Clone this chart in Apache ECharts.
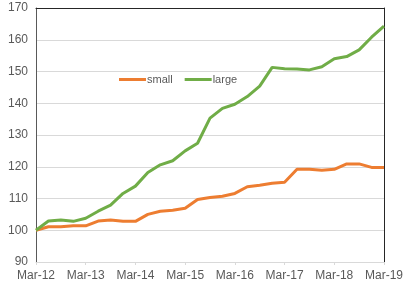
<!DOCTYPE html>
<html><head><meta charset="utf-8">
<script src="https://cdn.jsdelivr.net/npm/echarts@6/dist/echarts.min.js"></script>
<style>html,body{margin:0;padding:0;background:#fff}#c{width:406px;height:287px}</style>
</head><body><div id="c"></div>
<script>
const categories = ["Mar-12","Jun-12","Sep-12","Dec-12","Mar-13","Jun-13","Sep-13","Dec-13","Mar-14","Jun-14","Sep-14","Dec-14","Mar-15","Jun-15","Sep-15","Dec-15","Mar-16","Jun-16","Sep-16","Dec-16","Mar-17","Jun-17","Sep-17","Dec-17","Mar-18","Jun-18","Sep-18","Dec-18","Mar-19"];
const small = [100,101.1,101.1,101.4,101.4,102.9,103.2,102.8,102.8,105.0,106.0,106.3,106.9,109.7,110.3,110.7,111.6,113.7,114.2,114.8,115.1,119.2,119.2,118.9,119.2,120.9,120.9,119.8,119.8];
const large = [100,102.9,103.2,102.8,103.8,106.0,107.9,111.6,113.9,118.2,120.6,121.9,125.0,127.4,135.3,138.4,139.7,142.1,145.4,151.3,150.9,150.8,150.5,151.5,154.0,154.7,156.8,160.8,164.3];
const yTicks = {min: 90, max: 170, interval: 10};

const chart = echarts.init(document.getElementById('c'), null, {renderer: 'canvas'});
const font = 'Liberation Sans, Arial, sans-serif';
chart.setOption({
  animation: false,
  textStyle: {fontFamily: font},
  grid: {left: 36, right: 20, top: 8, bottom: 25, containLabel: false},
  legend: {
    left: 114, top: 69, itemWidth: 27, itemHeight: 3, itemGap: 12, icon: 'rect',
    textStyle: {color: '#595959', fontSize: 11, fontFamily: font, padding: [0,0,0,-4]},
    data: ['small','large']
  },
  xAxis: [{
    type: 'category', data: categories, boundaryGap: false,
    axisLine: {lineStyle: {color: '#d9d9d9', width: 1}},
    axisTick: {show: true, interval: 3, length: 3, lineStyle: {color: '#d9d9d9'}},
    axisLabel: {interval: 3, color: '#595959', fontSize: 12, margin: 8, fontFamily: font},
    splitLine: {show: false}
  },{
    type: 'category', data: categories, boundaryGap: false, position: 'top',
    axisLine: {lineStyle: {color: '#262626', width: 1}},
    axisTick: {show: false}, axisLabel: {show: false}, splitLine: {show: false}
  }],
  yAxis: [{
    type: 'value', min: yTicks.min, max: yTicks.max, interval: yTicks.interval,
    axisLine: {show: true, lineStyle: {color: '#595959', width: 1}},
    axisTick: {show: false},
    axisLabel: {color: '#595959', fontSize: 12, margin: 8, fontFamily: font},
    splitLine: {lineStyle: {color: '#d9d9d9', width: 1}}
  },{
    type: 'value', min: yTicks.min, max: yTicks.max, interval: yTicks.interval, position: 'right',
    axisLine: {show: true, lineStyle: {color: '#262626', width: 1}},
    axisTick: {show: false}, axisLabel: {show: false}, splitLine: {show: false}
  }],
  series: [
    {name: 'small', type: 'line', data: small, showSymbol: false, symbol: 'none',
     lineStyle: {color: '#ED7D31', width: 3}, itemStyle: {color: '#ED7D31'}},
    {name: 'large', type: 'line', data: large, showSymbol: false, symbol: 'none',
     lineStyle: {color: '#70AD47', width: 3}, itemStyle: {color: '#70AD47'}}
  ]
});
</script></body></html>
